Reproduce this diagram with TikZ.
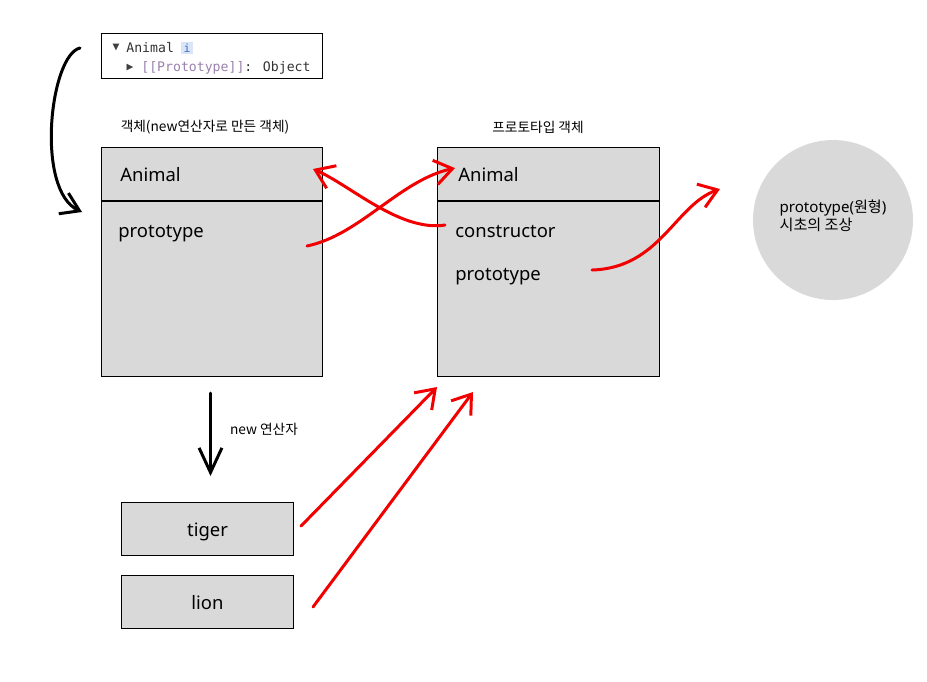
\documentclass[tikz,border=0pt]{standalone}
\usepackage{fontspec}
\setmainfont{Noto Sans}
\newfontfamily\kr{Noto Sans CJK KR}
\newfontfamily\mono{DejaVu Sans Mono}
\usetikzlibrary{positioning,arrows.meta}
\definecolor{boxgray}{HTML}{D9D9D9}
\definecolor{penred}{HTML}{F20000}
\definecolor{protopurple}{HTML}{9A80AC}
\definecolor{badgeblue}{HTML}{DAE5F7}
\definecolor{badgetext}{HTML}{3D6FC4}

\begin{document}
\begin{tikzpicture}[x=0.02cm,y=-0.02cm,
  panel/.style={draw,fill=boxgray,line width=0.6pt,inner sep=0pt,anchor=north west},
  field/.style={anchor=base west,inner sep=0pt,font=\fontsize{10.5}{12}\selectfont},
  caption/.style={inner sep=0pt,font=\kr\fontsize{7.8}{9}\selectfont},
  devtext/.style={inner sep=0pt,font=\mono\fontsize{7.5}{9}\selectfont,text=black!80},
  devmark/.style={inner sep=0pt,font=\mono\fontsize{6.5}{8}\selectfont,text=black!75},
  redpen/.style={penred,line width=1.7pt,line cap=round,
    -{Straight Barb[length=10pt,width=14pt,line width=1.7pt]}},
  blackpen/.style={line width=1.7pt,line cap=round,
    -{Straight Barb[length=10pt,width=13pt,line width=1.7pt]}}]
  \useasboundingbox (0,0) rectangle (927,681);

  \node[draw,line width=0.8pt,inner sep=0pt,anchor=north west,
    minimum width=4.42cm,minimum height=0.9cm] (devbox) at (101,33) {};
  \node[devmark] (devTri) at (116,48) {▼};
  \node[devtext,anchor=west] (devName) at (126,48) {Animal};
  \node[fill=badgeblue,inner sep=1.2pt,font=\mono\fontsize{6.5}{8}\selectfont,
    text=badgetext] (devBadge) at (187,48) {i};
  \node[devmark] (devArr) at (130,68) {▶};
  \node[devtext,anchor=west] (devProto) at (141,68) {{\color{protopurple}[[Prototype]]}: Object};

  \node[caption] (objCap) at (205,127) {객체(new연산자로 만든 객체)};
  \node[caption] (protoCap) at (538,127) {프로토타입 객체};

  \node[panel,minimum width=4.42cm,minimum height=4.58cm] (objL) at (101,147) {};
  \draw[line width=0.6pt] ([yshift=-1.08cm]objL.north west) -- ([yshift=-1.08cm]objL.north east);
  \node[field] (animalL) at (120,181) {Animal};
  \node[field] (protoL) at (118,237) {prototype};

  \node[panel,minimum width=4.44cm,minimum height=4.58cm] (objR) at (437,147) {};
  \draw[line width=0.6pt] ([yshift=-1.08cm]objR.north west) -- ([yshift=-1.08cm]objR.north east);
  \node[field] (animalR) at (458,181) {Animal};
  \node[field] (ctorR) at (455,237) {constructor};
  \node[field] (protoR) at (455,280) {prototype};

  \node[circle,fill=boxgray,minimum size=3.2cm] (ancestor) at (833,220) {};
  \node[align=left,inner sep=0pt,font=\fontsize{8.6}{10}\selectfont] (ancestorText)
    at ([yshift=0.08cm]ancestor.center) {prototype({\kr 원형})\\{\kr 시초의 조상}};

  \node[panel,minimum width=3.44cm,minimum height=1.06cm] (tiger) at (121,502) {};
  \node[font=\fontsize{10.5}{12}\selectfont] at ([yshift=-0.05cm]tiger.center) {tiger};
  \node[panel,minimum width=3.44cm,minimum height=1.06cm] (lion) at (121,575) {};
  \node[font=\fontsize{10.5}{12}\selectfont] at ([yshift=-0.02cm]lion.center) {lion};

  \node[caption] (newCap) at (264,429) {new 연산자};

  \coordinate (curlStart) at (80,48);
  \coordinate (curlEnd) at (82,212);
  \draw[blackpen] (curlStart) .. controls (50,55) and (35,190) .. (curlEnd);
  \draw[line width=1.7pt,line cap=round,
    -{Straight Barb[length=14pt,width=13pt,line width=1.7pt]}]
    ([xshift=-0.03cm,yshift=-0.32cm]objL.south) -- ++(0,83);

  \coordinate (protoLTail) at (307,246);
  \draw[redpen] (protoLTail) .. controls (360,235) and (400,180) .. ([xshift=-0.06cm,yshift=0.12cm]animalR.west);
  \draw[redpen] ([xshift=-0.2cm,yshift=0.12cm]ctorR.west) .. controls (400,232) and (350,185) .. (313,169);
  \coordinate (protoRTail) at (592,270);
  \coordinate (protoRHead) at (720,189);
  \draw[redpen] (protoRTail) .. controls (660,268) and (675,205) .. (protoRHead);

  \draw[redpen] ([xshift=0.14cm,yshift=0.06cm]tiger.east) -- ([yshift=-0.2cm]objR.south west);
  \coordinate (lionTail) at (313,607);
  \draw[redpen] (lionTail) -- (473,392);
\end{tikzpicture}
\end{document}
